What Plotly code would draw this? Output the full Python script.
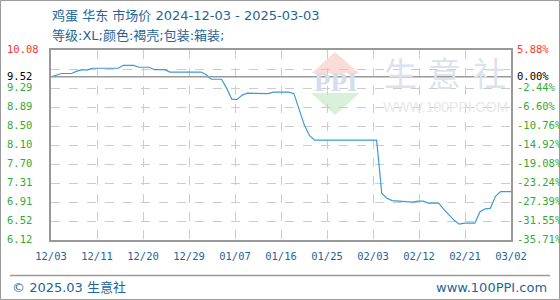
import numpy as np
import pandas as pd
import plotly.graph_objects as go

# ---------------- data ----------------
start_date = "2024-12-03"
end_date = "2025-03-02"
prices = [
    9.52, 9.55, 9.59, 9.59, 9.59, 9.64, 9.67, 9.66,
    9.70, 9.70, 9.70, 9.70, 9.70, 9.70,
    9.76, 9.76, 9.76,
    9.72, 9.72, 9.72,
    9.67, 9.67, 9.67,
    9.62, 9.62, 9.62, 9.62, 9.62, 9.62, 9.62,
    9.57,
    9.47, 9.47, 9.47,
    9.28, 9.05, 9.05, 9.14,
    9.18, 9.18, 9.18, 9.18,
    9.17,
    9.20, 9.20, 9.20, 9.20,
    9.17, 8.85, 8.52, 8.30,
    8.20, 8.20, 8.20, 8.20, 8.20, 8.20, 8.20, 8.20, 8.20, 8.20, 8.20, 8.20, 8.20,
    7.09, 6.99, 6.94,
    6.93, 6.93, 6.91, 6.91, 6.93, 6.93,
    6.89, 6.89, 6.89,
    6.76, 6.64, 6.53, 6.45,
    6.47, 6.47, 6.47,
    6.71, 6.77, 6.78, 7.03,
    7.13, 7.13, 7.13,
]
base_price = 9.52
x_tick_labels = ["12/03", "12/11", "12/20", "12/29", "01/07", "01/16",
                 "01/25", "02/03", "02/12", "02/21", "03/02"]
y_min, y_max = 6.12, 10.08
left_labels = ["10.08", "9.52", "9.29", "8.89", "8.50", "8.10",
               "7.70", "7.31", "6.91", "6.52", "6.12"]
right_labels = ["5.88%", "0.00%", "-2.44%", "-6.60%", "-10.76%", "-14.92%",
                "-19.08%", "-23.24%", "-27.39%", "-31.55%", "-35.71%"]
title_line1 = "鸡蛋 华东 市场价 2024-12-03 - 2025-03-03"
title_line2 = "等级:XL;颜色:褐壳;包装:箱装;"
footer_left = "© 2025.03 生意社"
footer_right = "www.100PPI.com"
watermark_chars = ["生", "意", "社"]

dates = pd.date_range(start_date, periods=len(prices), freq="D")

# ---------------- layout geometry ----------------
W, H = 560, 300
L, R, T, B = 51, 511, 50, 240
PW, PH = R - L, B - T


def px(xp):
    return (xp - L) / PW


def py(yp):
    return (B - yp) / PH


t0 = pd.Timestamp(start_date)
t1 = pd.Timestamp(end_date)
tickvals = [t0 + (t1 - t0) * k / (len(x_tick_labels) - 1) for k in range(len(x_tick_labels))]
ytickvals = np.linspace(y_min, y_max, 11)

fig = go.Figure()
fig.add_trace(go.Scatter(
    x=dates, y=prices, mode="lines",
    line=dict(color="#3b9bd9", width=1.2),
    hoverinfo="skip", showlegend=False,
))

mono = "DejaVu Sans Mono"
blue = "#1f6496"

fig.update_layout(
    width=W, height=H,
    margin=dict(l=L, r=W - R, t=T, b=H - B, pad=0),
    paper_bgcolor="white", plot_bgcolor="white",
    showlegend=False,
    xaxis=dict(
        type="date", range=[t0, t1],
        tickmode="array", tickvals=tickvals, ticktext=x_tick_labels,
        showgrid=True, gridcolor="#cccccc", griddash="dash", gridwidth=1,
        showline=True, linecolor="#999999", linewidth=1.5, mirror=True,
        ticks="", ticklabelstandoff=6,
        tickfont=dict(family=mono, size=10.5, color=blue),
        zeroline=False,
    ),
    yaxis=dict(
        range=[y_min, y_max],
        tickmode="array", tickvals=ytickvals, showticklabels=False,
        showgrid=True, gridcolor="#cccccc", griddash="dash", gridwidth=1,
        showline=True, linecolor="#999999", linewidth=1.5, mirror=True,
        ticks="", zeroline=False,
    ),
)

# reference line at base price
fig.add_shape(type="line", xref="paper", yref="y", x0=0, x1=1,
              y0=base_price, y1=base_price,
              line=dict(color="#999999", width=1.5))

# outer border and footer separator
fig.add_shape(type="rect", xref="paper", yref="paper",
              x0=px(0.5), x1=px(559.5), y0=py(299.5), y1=py(0.5),
              line=dict(color="#9a9a9a", width=1), layer="below")
fig.add_shape(type="line", xref="paper", yref="paper",
              x0=px(10), x1=px(550), y0=py(275.5), y1=py(275.5),
              line=dict(color="#9a9a9a", width=1.5))

# watermark logo
fig.add_shape(type="path", xref="paper", yref="paper", layer="below",
              path=f"M {px(312)},{py(73)} L {px(335)},{py(52)} L {px(359)},{py(73)} Z",
              fillcolor="#fadcd8", line=dict(width=0))
fig.add_shape(type="path", xref="paper", yref="paper", layer="below",
              path=f"M {px(311)},{py(93)} L {px(360)},{py(93)} L {px(335)},{py(115)} Z",
              fillcolor="#d9f1da", line=dict(width=0))

ann = []
ann.append(dict(text="<b>PPI</b>", x=px(336), y=py(82), xref="paper", yref="paper",
                showarrow=False, xanchor="center", yanchor="middle",
                font=dict(family="Liberation Serif", size=27, color="#d5dcea")))
for i, ch in enumerate(watermark_chars):
    ann.append(dict(text=ch, x=px(400 + 44.5 * i), y=py(72), xref="paper", yref="paper",
                    showarrow=False, xanchor="center", yanchor="middle",
                    font=dict(family="Noto Sans CJK SC", size=33, color="#dde3ee")))
ann.append(dict(text="WWW.100PPI.COM", x=px(445), y=py(107), xref="paper", yref="paper",
                showarrow=False, xanchor="center", yanchor="middle",
                font=dict(family="Liberation Sans", size=14, color="#e8e8e8")))

# titles
title_font = dict(family="DejaVu Sans, Noto Sans CJK SC", size=13, color=blue)
ann.append(dict(text=title_line1, x=px(50), y=py(15), xref="paper", yref="paper",
                showarrow=False, xanchor="left", yanchor="middle", font=title_font))
ann.append(dict(text=title_line2, x=px(50), y=py(35), xref="paper", yref="paper",
                showarrow=False, xanchor="left", yanchor="middle", font=title_font))

# footer
ann.append(dict(text=footer_left, x=px(10), y=py(287), xref="paper", yref="paper",
                showarrow=False, xanchor="left", yanchor="middle", font=title_font))
ann.append(dict(text=footer_right, x=px(549), y=py(287), xref="paper", yref="paper",
                showarrow=False, xanchor="right", yanchor="middle", font=title_font))

# y labels (left prices, right percentages)
for lab_l, lab_r in zip(left_labels, right_labels):
    yv = float(lab_l)
    if lab_l == left_labels[0]:
        col = "#ff3333"
    elif yv == base_price:
        col = "#000000"
    else:
        col = "#33aa33"
    ann.append(dict(text=lab_l, x=px(5), y=yv, xref="paper", yref="y",
                    showarrow=False, xanchor="left", yanchor="middle", yshift=1,
                    font=dict(family=mono, size=10.5, color=col)))
    ann.append(dict(text=lab_r, x=px(515), y=yv, xref="paper", yref="y",
                    showarrow=False, xanchor="left", yanchor="middle", yshift=1,
                    font=dict(family=mono, size=10.5, color=col)))

fig.update_layout(annotations=ann)
fig.write_html("out.html")
